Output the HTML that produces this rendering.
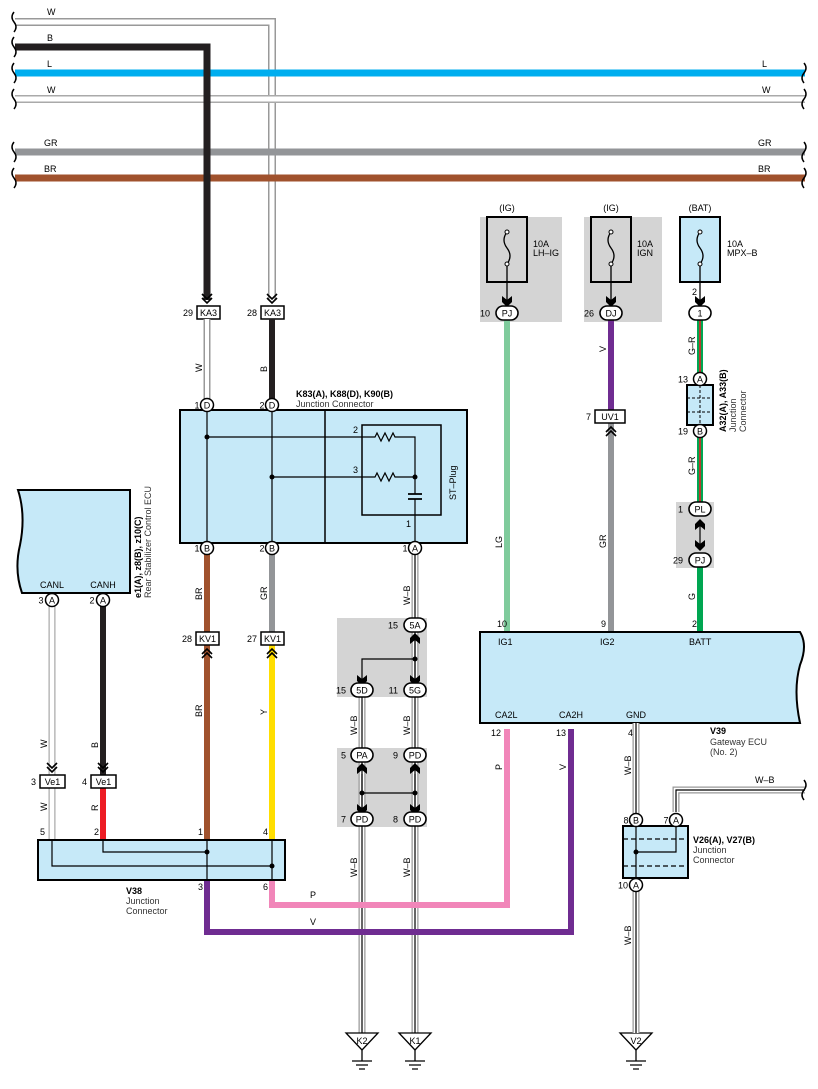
<!DOCTYPE html>
<html><head><meta charset="utf-8"><style>
html,body{margin:0;padding:0;background:#fff;}
svg{display:block;font-family:"Liberation Sans",sans-serif;}
</style></head><body>
<svg width="818" height="1089" viewBox="0 0 818 1089" xmlns="http://www.w3.org/2000/svg">
<defs>
<path id="dv" d="M-5,-6 L0,-1 L5,-6 M-5,-2 L0,3 L5,-2" fill="none" stroke="#000" stroke-width="1.6"/>
<path id="fa" d="M-5,-6 L0,-2 L5,-6 L5,0 L0,5 L-5,0 Z" fill="#000"/>
</defs>

<rect x="480" y="217" width="82" height="105" fill="#d4d4d4"/>
<rect x="584" y="217" width="78" height="105" fill="#d4d4d4"/>
<rect x="337" y="618" width="90" height="79" fill="#d4d4d4"/>
<rect x="337" y="748" width="90" height="79" fill="#d4d4d4"/>
<rect x="676" y="502" width="38" height="66" fill="#d4d4d4"/>

<g fill="none">
<path d="M15,22 H272 V300" stroke="#999" stroke-width="8"/><path d="M15,22 H272 V300" stroke="#fff" stroke-width="5"/>
<path d="M15,73 H805" stroke="#00aeef" stroke-width="7"/>
<path d="M15,99 H805" stroke="#aaa" stroke-width="8"/><path d="M15,99 H805" stroke="#fff" stroke-width="5"/>
<path d="M15,152 H805" stroke="#939598" stroke-width="7"/>
<path d="M15,178 H805" stroke="#a0522d" stroke-width="7"/>
<path d="M15,47 H207 V300" stroke="#231f20" stroke-width="7"/>
</g>
<g fill="none" stroke="#000" stroke-width="1.5">
<path d="M14,12 q-4,5 0,10 q4,5 0,10 M14,37 q-4,5 0,10 q4,5 0,10 M14,63 q-4,5 0,10 q4,5 0,10 M14,89 q-4,5 0,10 q4,5 0,10 M14,142 q-4,5 0,10 q4,5 0,10 M14,168 q-4,5 0,10 q4,5 0,10"/>
<path d="M804,63 q4,5 0,10 q-4,5 0,10 M804,89 q4,5 0,10 q-4,5 0,10 M804,142 q4,5 0,10 q-4,5 0,10 M804,168 q4,5 0,10 q-4,5 0,10"/>
</g>
<g font-size="9" fill="#000">
<text x="47" y="15">W</text><text x="47" y="41">B</text><text x="47" y="67">L</text><text x="47" y="93">W</text><text x="44" y="146">GR</text><text x="44" y="172">BR</text>
<text x="762" y="67">L</text><text x="762" y="93">W</text><text x="758" y="146">GR</text><text x="758" y="172">BR</text>
</g>

<use href="#dv" x="207" y="300"/><use href="#dv" x="272" y="300"/>
<rect x="197" y="306" width="23" height="13" fill="#fff" stroke="#000" stroke-width="1.5"/><text x="208.5" y="316" font-size="9" text-anchor="middle">KA3</text><text x="193" y="316" font-size="9" text-anchor="end">29</text>
<rect x="261" y="306" width="23" height="13" fill="#fff" stroke="#000" stroke-width="1.5"/><text x="272.5" y="316" font-size="9" text-anchor="middle">KA3</text><text x="257" y="316" font-size="9" text-anchor="end">28</text>
<path d="M207,319 V399" stroke="#999" stroke-width="7"/><path d="M207,319 V399" stroke="#fff" stroke-width="4"/>
<path d="M272,319 V399" stroke="#231f20" stroke-width="6"/>
<text font-size="9" transform="translate(202,372) rotate(-90)">W</text>
<text font-size="9" transform="translate(267,372) rotate(-90)">B</text>

<rect x="180" y="410" width="287" height="133" fill="#c6e9f8" stroke="#000" stroke-width="2"/>
<line x1="325" y1="410" x2="325" y2="543" stroke="#000" stroke-width="1.5"/>
<rect x="362" y="425" width="79" height="90" fill="none" stroke="#000" stroke-width="1.5"/>
<g fill="none" stroke="#000" stroke-width="1.2">
<path d="M207,410 V543 M272,410 V543"/>
<path d="M207,437 H375 l2,-4 l4,8 l4,-8 l4,8 l4,-8 l2,4 H415 V548"/>
<path d="M272,477 H375 l2,-4 l4,8 l4,-8 l4,8 l4,-8 l2,4 H415"/>
</g>
<circle cx="207" cy="437" r="2.5"/><circle cx="272" cy="477" r="2.5"/><circle cx="415" cy="477" r="2.5"/>
<rect x="410" y="494" width="10" height="5" fill="#c6e9f8"/>
<path d="M408,494 H422 M408,499 H422" stroke="#000" stroke-width="1.8"/>
<g font-size="9"><text x="353" y="433">2</text><text x="353" y="473">3</text><text x="406" y="527">1</text></g>
<text font-size="9" transform="translate(456,500) rotate(-90)">ST–Plug</text>
<text x="296" y="397" font-size="9" font-weight="bold">K83(A), K88(D), K90(B)</text>
<text x="296" y="407" font-size="9" fill="#333">Junction Connector</text>

<g font-size="9" text-anchor="middle">
<circle cx="207" cy="405" r="6.5" fill="#fff" stroke="#000" stroke-width="1.5"/><text x="207" y="408.5">D</text><text x="197" y="408.5">1</text>
<circle cx="272" cy="405" r="6.5" fill="#fff" stroke="#000" stroke-width="1.5"/><text x="272" y="408.5">D</text><text x="262" y="408.5">2</text>
</g>

<path d="M207,554 V840" stroke="#a0522d" stroke-width="6"/>
<path d="M272,554 V632" stroke="#939598" stroke-width="6"/>
<path d="M272,645 V840" stroke="#ffde00" stroke-width="6"/>
<g fill="none">
<path d="M415,554 V1033" stroke="#999" stroke-width="7"/><path d="M415,554 V1033" stroke="#fff" stroke-width="4.5"/><path d="M415,554 V1033" stroke="#000" stroke-width="1.2"/>
<path d="M362,690 V1033" stroke="#999" stroke-width="7"/><path d="M362,690 V1033" stroke="#fff" stroke-width="4.5"/><path d="M362,690 V1033" stroke="#000" stroke-width="1.2"/>
</g>
<g font-size="9" text-anchor="middle">
<circle cx="207" cy="548" r="6.5" fill="#fff" stroke="#000" stroke-width="1.5"/><text x="207" y="551.5">B</text><text x="197" y="551.5">1</text>
<circle cx="272" cy="548" r="6.5" fill="#fff" stroke="#000" stroke-width="1.5"/><text x="272" y="551.5">B</text><text x="262" y="551.5">2</text>
<circle cx="415" cy="548" r="6.5" fill="#fff" stroke="#000" stroke-width="1.5"/><text x="415" y="551.5">A</text><text x="405" y="551.5">1</text>
</g>
<g font-size="9">
<text transform="translate(202,600) rotate(-90)">BR</text>
<text transform="translate(267,600) rotate(-90)">GR</text>
<text transform="translate(410,605) rotate(-90)">W–B</text>
<text transform="translate(202,717) rotate(-90)">BR</text>
<text transform="translate(267,715) rotate(-90)">Y</text>
<text transform="translate(357,735) rotate(-90)">W–B</text>
<text transform="translate(410,735) rotate(-90)">W–B</text>
<text transform="translate(357,877) rotate(-90)">W–B</text>
<text transform="translate(410,877) rotate(-90)">W–B</text>
</g>
<rect x="196" y="632" width="23" height="13" fill="#fff" stroke="#000" stroke-width="1.5"/><text x="207.5" y="642" font-size="9" text-anchor="middle">KV1</text><text x="192" y="642" font-size="9" text-anchor="end">28</text>
<rect x="261" y="632" width="23" height="13" fill="#fff" stroke="#000" stroke-width="1.5"/><text x="272.5" y="642" font-size="9" text-anchor="middle">KV1</text><text x="257" y="642" font-size="9" text-anchor="end">27</text>
<use href="#dv" transform="translate(207,652) rotate(180)"/><use href="#dv" transform="translate(272,652) rotate(180)"/>

<g fill="none" stroke="#000" stroke-width="1.2"><path d="M415,640 V682 M415,659 H362 V682 M362,774 V812 M415,774 V812 M362,793 H415"/></g>
<circle cx="415" cy="659" r="2.5"/><circle cx="362" cy="793" r="2.5"/><circle cx="415" cy="793" r="2.5"/>
<use href="#fa" transform="translate(415,638) rotate(180)"/><use href="#fa" x="415" y="681"/><use href="#fa" x="362" y="681"/>
<use href="#fa" transform="translate(362,768) rotate(180)"/><use href="#fa" transform="translate(415,768) rotate(180)"/>
<use href="#fa" x="362" y="810"/><use href="#fa" x="415" y="810"/>
<g font-size="9" text-anchor="middle" stroke-width="1.6">
<rect x="404" y="618" width="22" height="14" rx="7" fill="#fff" stroke="#000"/><text x="415" y="628.5">5A</text><text x="398" y="628.5" text-anchor="end">15</text>
<rect x="351" y="683" width="22" height="14" rx="7" fill="#fff" stroke="#000"/><text x="362" y="693.5">5D</text><text x="346" y="693.5" text-anchor="end">15</text>
<rect x="404" y="683" width="22" height="14" rx="7" fill="#fff" stroke="#000"/><text x="415" y="693.5">5G</text><text x="398" y="693.5" text-anchor="end">11</text>
<rect x="351" y="748" width="22" height="14" rx="7" fill="#fff" stroke="#000"/><text x="362" y="758.5">PA</text><text x="346" y="758.5" text-anchor="end">5</text>
<rect x="404" y="748" width="22" height="14" rx="7" fill="#fff" stroke="#000"/><text x="415" y="758.5">PD</text><text x="398" y="758.5" text-anchor="end">9</text>
<rect x="351" y="812" width="22" height="14" rx="7" fill="#fff" stroke="#000"/><text x="362" y="822.5">PD</text><text x="346" y="822.5" text-anchor="end">7</text>
<rect x="404" y="812" width="22" height="14" rx="7" fill="#fff" stroke="#000"/><text x="415" y="822.5">PD</text><text x="398" y="822.5" text-anchor="end">8</text>
</g>

<g fill="#fff" stroke="#000" stroke-width="1.3">
<path d="M346,1033 H378 L362,1050 Z"/><path d="M399,1033 H431 L415,1050 Z"/><path d="M620,1033 H652 L636,1050 Z"/>
<path d="M362,1050 V1061 M352,1061 H372 M356,1065 H368 M359,1069 H365"/>
<path d="M415,1050 V1061 M405,1061 H425 M409,1065 H421 M412,1069 H418"/>
<path d="M636,1050 V1061 M626,1061 H646 M630,1065 H642 M633,1069 H639"/>
</g>
<g font-size="9" text-anchor="middle"><text x="362" y="1044">K2</text><text x="415" y="1044">K1</text><text x="636" y="1044">V2</text></g>

<path d="M18,490 H130 V593 H22 Q14,570 20,545 Q26,515 18,490 Z" fill="#c6e9f8" stroke="#000" stroke-width="2"/>
<text x="52" y="588" font-size="9" text-anchor="middle">CANL</text><text x="103" y="588" font-size="9" text-anchor="middle">CANH</text>
<text transform="translate(141,598) rotate(-90)" font-size="9" font-weight="bold">e1(A), z8(B), z10(C)</text>
<text transform="translate(151,598) rotate(-90)" font-size="9" fill="#333">Rear Stabilizer Control ECU</text>
<path d="M52,606 V840" stroke="#aaa" stroke-width="7"/><path d="M52,606 V840" stroke="#fff" stroke-width="4.5"/>
<path d="M103,606 V775" stroke="#231f20" stroke-width="6"/>
<path d="M103,788 V840" stroke="#ed1c24" stroke-width="6"/>
<g font-size="9" text-anchor="middle">
<circle cx="52" cy="600" r="6.5" fill="#fff" stroke="#000" stroke-width="1.5"/><text x="52" y="603.5">A</text><text x="41" y="603.5">3</text>
<circle cx="103" cy="600" r="6.5" fill="#fff" stroke="#000" stroke-width="1.5"/><text x="103" y="603.5">A</text><text x="92" y="603.5">2</text>
</g>
<use href="#dv" x="52" y="769"/><use href="#dv" x="103" y="769"/>
<rect x="40" y="775" width="25" height="13" fill="#fff" stroke="#000" stroke-width="1.5"/><text x="52.5" y="785" font-size="9" text-anchor="middle">Ve1</text><text x="36" y="785" font-size="9" text-anchor="end">3</text>
<rect x="91" y="775" width="25" height="13" fill="#fff" stroke="#000" stroke-width="1.5"/><text x="103.5" y="785" font-size="9" text-anchor="middle">Ve1</text><text x="87" y="785" font-size="9" text-anchor="end">4</text>
<g font-size="9">
<text transform="translate(47,748) rotate(-90)">W</text><text transform="translate(98,748) rotate(-90)">B</text>
<text transform="translate(47,811) rotate(-90)">W</text><text transform="translate(98,811) rotate(-90)">R</text>
<text x="45" y="835" text-anchor="end">5</text><text x="99" y="835" text-anchor="end">2</text><text x="203" y="835" text-anchor="end">1</text><text x="268" y="835" text-anchor="end">4</text>
<text x="203" y="890" text-anchor="end">3</text><text x="268" y="890" text-anchor="end">6</text>
</g>

<path d="M207,880 V932 H571 V729" fill="none" stroke="#6f2c91" stroke-width="6"/>
<path d="M272,880 V905 H507 V729" fill="none" stroke="#f186b9" stroke-width="6"/>
<rect x="38" y="840" width="247" height="40" fill="#c6e9f8" stroke="#000" stroke-width="2"/>
<g fill="none" stroke="#000" stroke-width="1.2"><path d="M52,840 V866 H272 M103,840 V852 H207 M207,840 V880 M272,840 V880"/></g>
<circle cx="207" cy="852" r="2.5"/><circle cx="272" cy="866" r="2.5"/>
<text x="126" y="894" font-size="9" font-weight="bold">V38</text>
<text x="126" y="904" font-size="9" fill="#333">Junction</text><text x="126" y="914" font-size="9" fill="#333">Connector</text>
<text font-size="9" transform="translate(502,770) rotate(-90)">P</text>
<text font-size="9" transform="translate(566,770) rotate(-90)">V</text>
<text x="310" y="898" font-size="9">P</text><text x="310" y="925" font-size="9">V</text>

<g stroke="#000" stroke-width="2">
<rect x="487" y="217" width="40" height="65" fill="none"/>
<rect x="591" y="217" width="40" height="65" fill="none"/>
<rect x="680" y="217" width="40" height="65" fill="#c6e9f8"/>
</g>
<g fill="none" stroke="#000" stroke-width="1.3">
<path d="M507,232 q-6,8 0,16 q6,8 0,16 M507,266 V302"/>
<path d="M611,232 q-6,8 0,16 q6,8 0,16 M611,266 V302"/>
<path d="M700,232 q-6,8 0,16 q6,8 0,16 M700,266 V302"/>
</g>
<g fill="#fff" stroke="#000" stroke-width="1"><circle cx="507" cy="232" r="2"/><circle cx="507" cy="264" r="2"/><circle cx="611" cy="232" r="2"/><circle cx="611" cy="264" r="2"/><circle cx="700" cy="232" r="2"/><circle cx="700" cy="264" r="2"/></g>
<g font-size="9" text-anchor="middle"><text x="507" y="211">(IG)</text><text x="611" y="211">(IG)</text><text x="700" y="211">(BAT)</text></g>
<g font-size="9"><text x="533" y="247">10A</text><text x="533" y="256">LH–IG</text><text x="637" y="247">10A</text><text x="637" y="256">IGN</text><text x="727" y="247">10A</text><text x="727" y="256">MPX–B</text><text x="692" y="295">2</text></g>
<use href="#fa" x="507" y="302"/><use href="#fa" x="611" y="302"/><use href="#fa" x="700" y="302"/>

<path d="M507,320 V632" stroke="#7fcb9c" stroke-width="6"/>
<path d="M611,320 V410" stroke="#6f2c91" stroke-width="6"/>
<path d="M611,423 V632" stroke="#939598" stroke-width="6"/>
<path d="M700,320 V378 M700,431 V505" stroke="#00a651" stroke-width="6"/>
<path d="M700,320 V378 M700,431 V505" stroke="#ed1c24" stroke-width="1.5"/>
<path d="M700,567 V632" stroke="#00a651" stroke-width="6"/>
<g font-size="9" text-anchor="middle" stroke-width="1.6">
<rect x="496" y="306" width="22" height="14" rx="7" fill="#fff" stroke="#000"/><text x="507" y="316.5">PJ</text><text x="490" y="316.5" text-anchor="end">10</text>
<rect x="600" y="306" width="22" height="14" rx="7" fill="#fff" stroke="#000"/><text x="611" y="316.5">DJ</text><text x="594" y="316.5" text-anchor="end">26</text>
<rect x="689" y="306" width="22" height="14" rx="7" fill="#fff" stroke="#000"/><text x="700" y="316.5">1</text>
<rect x="689" y="502" width="22" height="14" rx="7" fill="#fff" stroke="#000"/><text x="700" y="512.5">PL</text><text x="683" y="512.5" text-anchor="end">1</text>
<rect x="689" y="553" width="22" height="14" rx="7" fill="#fff" stroke="#000"/><text x="700" y="563.5">PJ</text><text x="683" y="563.5" text-anchor="end">29</text>
</g>
<use href="#fa" transform="translate(700,524) rotate(180)"/><use href="#fa" x="700" y="546"/>
<line x1="700" y1="525" x2="700" y2="546" stroke="#000" stroke-width="1.2"/>
<rect x="595" y="410" width="30" height="13" fill="#fff" stroke="#000" stroke-width="1.5"/><text x="610" y="420" font-size="9" text-anchor="middle">UV1</text><text x="591" y="420" font-size="9" text-anchor="end">7</text>
<use href="#dv" transform="translate(611,430) rotate(180)"/>
<g font-size="9">
<text transform="translate(502,548) rotate(-90)">LG</text>
<text transform="translate(606,352) rotate(-90)">V</text>
<text transform="translate(606,548) rotate(-90)">GR</text>
<text transform="translate(695,355) rotate(-90)">G–R</text>
<text transform="translate(695,475) rotate(-90)">G–R</text>
<text transform="translate(695,600) rotate(-90)">G</text>
</g>
<rect x="687" y="385" width="26" height="40" fill="#c6e9f8" stroke="#000" stroke-width="2"/>
<path d="M687,398 H713 M687,412 H713 M700,385 V425" stroke="#000" stroke-width="1" stroke-dasharray="3,2"/>
<g font-size="9" text-anchor="middle">
<circle cx="700" cy="379" r="6.5" fill="#fff" stroke="#000" stroke-width="1.5"/><text x="700" y="382.5">A</text><text x="688" y="382.5" text-anchor="end">13</text>
<circle cx="700" cy="431" r="6.5" fill="#fff" stroke="#000" stroke-width="1.5"/><text x="700" y="434.5">B</text><text x="688" y="434.5" text-anchor="end">19</text>
</g>
<text transform="translate(726,432) rotate(-90)" font-size="9" font-weight="bold">A32(A), A33(B)</text>
<text transform="translate(736,432) rotate(-90)" font-size="9" fill="#333">Junction</text>
<text transform="translate(746,432) rotate(-90)" font-size="9" fill="#333">Connector</text>

<path d="M480,632 H800 Q808,645 800,665 Q793,690 800,723 H480 Z" fill="#c6e9f8" stroke="#000" stroke-width="2"/>
<g font-size="9"><text x="498" y="645">IG1</text><text x="600" y="645">IG2</text><text x="689" y="645">BATT</text>
<text x="495" y="718">CA2L</text><text x="559" y="718">CA2H</text><text x="626" y="718">GND</text>
<text x="497" y="627">10</text><text x="601" y="627">9</text><text x="692" y="627">2</text>
<text x="491" y="736">12</text><text x="556" y="736">13</text><text x="628" y="736">4</text>
<text x="710" y="734" font-weight="bold">V39</text><text x="710" y="745" fill="#333">Gateway ECU</text><text x="710" y="755" fill="#333">(No. 2)</text></g>

<g fill="none">
<path d="M636,723 V1033" stroke="#999" stroke-width="7"/><path d="M636,723 V1033" stroke="#fff" stroke-width="4.5"/><path d="M636,723 V1033" stroke="#000" stroke-width="1.2"/>
<path d="M676,812 V790 H805" stroke="#999" stroke-width="7"/><path d="M676,812 V790 H805" stroke="#fff" stroke-width="4.5"/><path d="M676,812 V790 H805" stroke="#000" stroke-width="1.2"/>
<path d="M804,780 q4,5 0,10 q-4,5 0,10" stroke="#000" stroke-width="1.5"/>
</g>
<text x="755" y="783" font-size="9">W–B</text>
<text transform="translate(631,775) rotate(-90)" font-size="9">W–B</text>
<text transform="translate(631,945) rotate(-90)" font-size="9">W–B</text>
<rect x="623" y="826" width="65" height="52" fill="#c6e9f8" stroke="#000" stroke-width="2"/>
<path d="M623,839 H688 M623,866 H688" stroke="#000" stroke-width="1.2" stroke-dasharray="5,3"/>
<path d="M636,826 V878 M636,852 H676 V826" fill="none" stroke="#000" stroke-width="1.2"/>
<circle cx="636" cy="852" r="2.5"/>
<g font-size="9" text-anchor="middle">
<circle cx="636" cy="820" r="6.5" fill="#fff" stroke="#000" stroke-width="1.5"/><text x="636" y="823.5">B</text><text x="626" y="823.5">8</text>
<circle cx="676" cy="820" r="6.5" fill="#fff" stroke="#000" stroke-width="1.5"/><text x="676" y="823.5">A</text><text x="666" y="823.5">7</text>
<circle cx="636" cy="885" r="6.5" fill="#fff" stroke="#000" stroke-width="1.5"/><text x="636" y="888.5">A</text><text x="623" y="888.5">10</text>
</g>
<text x="693" y="843" font-size="9" font-weight="bold">V26(A), V27(B)</text>
<text x="693" y="853" font-size="9" fill="#333">Junction</text><text x="693" y="863" font-size="9" fill="#333">Connector</text>
</svg>
</body></html>
